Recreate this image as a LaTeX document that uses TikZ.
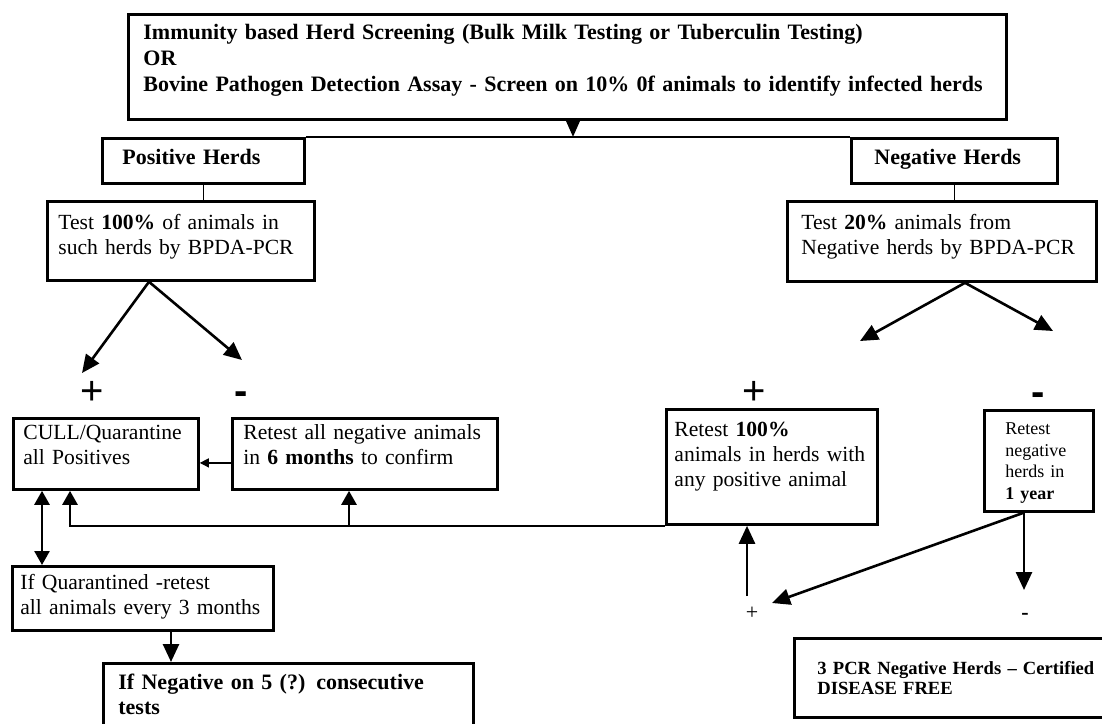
\documentclass[tikz,border=0pt]{standalone}
\usepackage{fontspec}
\setmainfont{Liberation Serif}
\newfontfamily\signfont{Liberation Sans}
\usetikzlibrary{arrows.meta}

% struts that fix the space above the first line and below the last one
\newcommand{\padtop}[1]{\rule{0pt}{#1}}
\newcommand{\padbot}[1]{\rule[-#1]{0pt}{#1}}

\begin{document}
\begin{tikzpicture}[x=0.5pt, y=-0.5pt,
  herdbox/.style={draw, line width=1.4pt, anchor=north west, align=left, inner ysep=0pt, font=\fontsize{10.8}{12.5}\selectfont},
  flow/.style={line width=1.3pt, -{Triangle[length=9pt, width=8pt]}},
  upflow/.style={line width=1.3pt, -{Triangle[length=7pt, width=7.5pt]}},
  bothflow/.style={line width=1.3pt, {Triangle[length=7pt, width=7.5pt]}-{Triangle[length=7pt, width=7.5pt]}},
  bigsign/.style={anchor=base, inner sep=0pt, font=\signfont\fontsize{20}{20}\selectfont},
  bigminus/.style={bigsign, font=\signfont\bfseries\fontsize{20}{20}\selectfont},
  smallsign/.style={anchor=base, inner sep=0pt, font=\fontsize{11}{12}\selectfont}]
\useasboundingbox (0,0) rectangle (1102,723);
\fill[white] (0,0) rectangle (1102,723);
\clip (0,0) rectangle (1102,723);

% Screening step
\node[herdbox, text width=424pt, inner xsep=7.5pt, font=\fontsize{11}{13}\selectfont\bfseries] (screen) at (127,13)
  {\padtop{12.5pt}Immunity based Herd Screening (Bulk Milk Testing or Tuberculin Testing)\\
   OR\\
   Bovine Pathogen Detection Assay - Screen on 10\% 0f animals to identify infected herds\padbot{14pt}};

% Herd status
\node[herdbox, text width=81pt, inner xsep=10pt, font=\fontsize{11}{12.5}\selectfont\bfseries] (posh) at (101,137)
  {\padtop{13pt}Positive Herds\padbot{9.5pt}};
\node[herdbox, text width=80pt, inner xsep=11.5pt, font=\fontsize{11}{12.5}\selectfont\bfseries] (negh) at (850,137)
  {\padtop{13pt}Negative Herds\padbot{9.5pt}};

% First round of testing
\node[herdbox, text width=122.5pt, inner xsep=5.5pt] (tpos) at (46,200)
  {\padtop{14pt}Test \textbf{100\%} of animals in\\ such herds by BPDA-PCR\padbot{13pt}};
\node[herdbox, text width=140.5pt, inner xsep=7pt] (tneg) at (786,200)
  {\padtop{14pt}Test \textbf{20\%} animals from\\ Negative herds by BPDA-PCR\padbot{13.5pt}};

% Outcomes
\node[herdbox, text width=82.5pt, inner xsep=5pt] (cull) at (12,417)
  {\padtop{10.5pt}CULL/Quarantine\\ all Positives\padbot{12.5pt}};
\node[herdbox, text width=121.5pt, inner xsep=5.5pt] (rsix) at (231,417)
  {\padtop{10.5pt}Retest all negative animals\\ in \textbf{6 months} to confirm\padbot{12.5pt}};
\node[herdbox, text width=97.5pt, inner xsep=4pt] (rall) at (665,408)
  {\padtop{13.5pt}Retest \textbf{100\%}\\ animals in herds with\\ any positive animal\padbot{19pt}};
\node[herdbox, text width=33.5pt, inner xsep=10.5pt, font=\fontsize{9}{10.8}\selectfont] (ryear) at (983,409)
  {\padtop{12pt}Retest\\ negative\\ herds in\\ \textbf{1 year}\padbot{6pt}};

% Follow up
\node[herdbox, text width=122.5pt, inner xsep=4pt] (quar) at (11,565)
  {\padtop{11.5pt}If Quarantined -retest\\ all animals every 3 months\padbot{8pt}};
\node[herdbox, text width=170pt, inner xsep=7.5pt, font=\fontsize{11}{12.5}\selectfont\bfseries] (ifneg) at (102,662)
  {\padtop{13pt}If Negative on 5 (?) consecutive\\ tests\padbot{16pt}};
\node[herdbox, text width=147pt, inner xsep=11.5pt, font=\fontsize{9.3}{10}\selectfont\bfseries] (pcr) at (793,637)
  {\padtop{18pt}3 PCR Negative Herds -- Certified\\ DISEASE FREE\padbot{11.5pt}};

% Result signs
\node[bigsign] (plusA) at (92,404) {+};
\node[bigminus] (minusA) at (241,404) {-};
\node[bigsign] (plusB) at (754,404) {+};
\node[bigminus] (minusB) at (1038,405) {-};
\node[smallsign] (plusC) at (752,619) {+};
\node[smallsign, font=\fontsize{11}{12}\selectfont\bfseries] (minusC) at (1025,619) {-};

% Split of the screening result
\coordinate (split) at (573,137);
\draw[line width=1.35pt] (posh.north east) -- (negh.north west);
\draw[line width=1.3pt, -{Triangle[length=9pt, width=7.5pt]}] (screen.south -| split) -- (split);
\draw[line width=0.5pt] (posh.south) -- (posh.south |- tpos.north);
\draw[line width=0.5pt] (negh.south) -- (negh.south |- tneg.north);

% Branches of the first test
\coordinate (forkA) at ([xshift=51.5pt]tpos.south west);
\coordinate (tipA) at (82,373);
\coordinate (tipB) at (242,360);
\draw[flow] (forkA) -- (tipA);
\draw[flow] (forkA) -- (tipB);
\coordinate (forkB) at ([xshift=89.5pt]tneg.south west);
\coordinate (tipC) at (860,341);
\coordinate (tipD) at (1053,331);
\draw[flow] (forkB) -- (tipC);
\draw[flow] (forkB) -- (tipD);

% Links between outcomes
\draw[line width=0.6pt, -{Triangle[length=4.5pt, width=4.5pt]}] ([yshift=-4.5pt]rsix.west) -- ([yshift=-4.5pt]cull.east);
\coordinate (cullfoot) at ([xshift=15pt]cull.south west);
\draw[bothflow] (cullfoot) -- (cullfoot |- quar.north);
\coordinate (cullin) at ([xshift=29pt]cull.south west);
\draw[upflow] (rall.south west) -| (cullin);
\coordinate (rsixin) at ([xshift=59pt]rsix.south west);
\draw[upflow] (rsixin |- rall.south) -- (rsixin);

% Retesting
\coordinate (rallin) at ([xshift=41pt]rall.south west);
\coordinate (plusfoot) at (747,596);
\draw[flow] (plusfoot) -- (rallin);
\coordinate (yearfoot) at ([xshift=20.5pt]ryear.south west);
\coordinate (tipE) at (772,603);
\coordinate (tipF) at (1024,590);
\draw[flow] (yearfoot) -- (tipE);
\draw[flow] (yearfoot) -- (tipF);
\coordinate (quarfoot) at ([xshift=80pt]quar.south west);
\draw[flow] (quarfoot) -- (quarfoot |- ifneg.north);
\end{tikzpicture}
\end{document}
